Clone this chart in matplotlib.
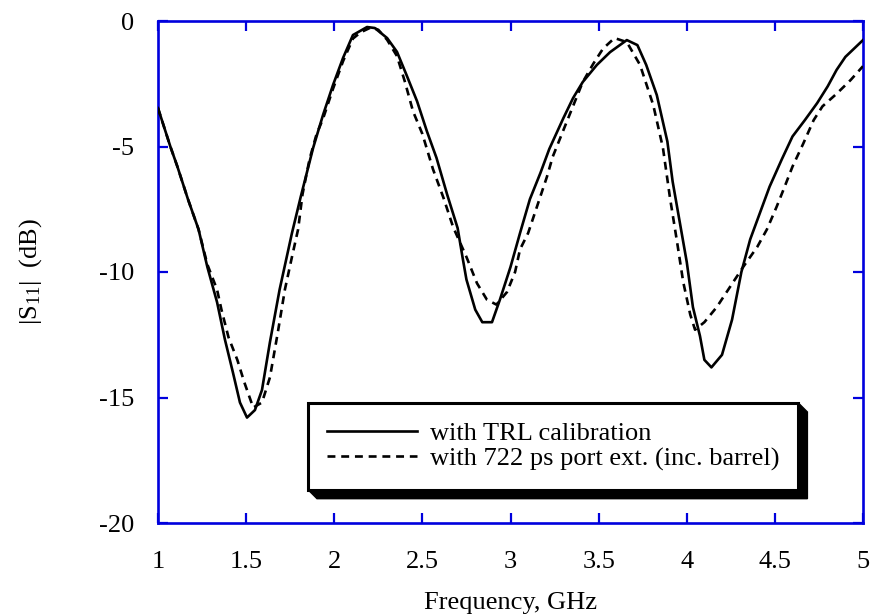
import matplotlib
matplotlib.use("Agg")
import matplotlib.pyplot as plt
from matplotlib.patches import Polygon
from matplotlib.transforms import IdentityTransform

# ---- data ----
freq_trl = [1.00, 1.07, 1.11, 1.17, 1.23, 1.28, 1.335, 1.38, 1.425, 1.465, 1.505,
            1.55, 1.59, 1.635, 1.69, 1.76, 1.81, 1.88, 1.936, 1.993, 2.05, 2.106,
            2.186, 2.23, 2.30, 2.356, 2.41, 2.47, 2.526, 2.58, 2.64, 2.70, 2.73,
            2.75, 2.80, 2.84, 2.895, 2.94, 3.00, 3.054, 3.11, 3.17, 3.22, 3.30,
            3.355, 3.41, 3.49, 3.565, 3.66, 3.72, 3.77, 3.83, 3.89, 3.92, 3.96,
            4.00, 4.035, 4.075, 4.10, 4.14, 4.20, 4.257, 4.31, 4.36, 4.415, 4.47,
            4.54, 4.60, 4.67, 4.74, 4.80, 4.85, 4.90, 5.00]
s11_trl = [-3.47, -5.0, -5.8, -7.1, -8.3, -9.8, -11.2, -12.7, -14.0, -15.2, -15.8,
           -15.5, -14.7, -12.8, -10.7, -8.45, -7.0, -5.06, -3.75, -2.55, -1.47, -0.56,
           -0.24, -0.28, -0.68, -1.23, -2.15, -3.2, -4.4, -5.45, -6.9, -8.25, -9.5,
           -10.3, -11.5, -12.0, -12.0, -11.1, -9.8, -8.45, -7.1, -6.05, -5.1, -3.87,
           -3.07, -2.43, -1.75, -1.24, -0.76, -0.96, -1.75, -2.95, -4.8, -6.4, -8.0,
           -9.6, -11.4, -12.55, -13.5, -13.8, -13.3, -11.9, -10.0, -8.7, -7.65, -6.6,
           -5.5, -4.6, -3.95, -3.27, -2.6, -1.95, -1.43, -0.76]

freq_ext = [1.00, 1.07, 1.11, 1.17, 1.23, 1.28, 1.335, 1.36, 1.40, 1.45, 1.49,
            1.54, 1.59, 1.635, 1.68, 1.72, 1.76, 1.795, 1.82, 1.86, 1.90, 1.936,
            1.993, 2.05, 2.106, 2.15, 2.21, 2.25, 2.30, 2.356, 2.40, 2.447, 2.50,
            2.56, 2.62, 2.674, 2.75, 2.81, 2.866, 2.92, 2.98, 3.026, 3.054, 3.10,
            3.15, 3.207, 3.24, 3.32, 3.41, 3.47, 3.525, 3.59, 3.66, 3.735, 3.81,
            3.865, 3.905, 3.945, 3.98, 4.02, 4.047, 4.10, 4.17, 4.245, 4.32, 4.40,
            4.455, 4.51, 4.55, 4.60, 4.66, 4.72, 4.77, 4.85, 4.93, 5.00]
s11_ext = [-3.47, -5.0, -5.8, -7.1, -8.3, -9.7, -10.7, -11.5, -12.6, -13.5, -14.4,
           -15.4, -15.2, -14.2, -12.4, -10.7, -9.4, -8.3, -6.9, -5.5, -4.5, -3.9,
           -2.7, -1.6, -0.7, -0.45, -0.25, -0.35, -0.75, -1.4, -2.4, -3.6, -4.5,
           -5.9, -7.05, -8.2, -9.4, -10.45, -11.1, -11.3, -10.8, -10.0, -9.1, -8.45,
           -7.4, -6.2, -5.4, -4.0, -2.43, -1.7, -1.1, -0.68, -0.84, -1.75, -3.35,
           -5.06, -7.05, -8.8, -10.4, -11.7, -12.3, -12.0, -11.4, -10.6, -9.8, -9.0,
           -8.3, -7.4, -6.7, -5.8, -4.9, -3.95, -3.4, -2.9, -2.35, -1.8]

x_ticks = [1, 1.5, 2, 2.5, 3, 3.5, 4, 4.5, 5]
x_ticklabels = ["1", "1.5", "2", "2.5", "3", "3.5", "4", "4.5", "5"]
y_ticks = [-20, -15, -10, -5, 0]
y_ticklabels = ["-20", "-15", "-10", "-5", "0"]
label_trl = "with TRL calibration"
label_ext = "with 722 ps port ext. (inc. barrel)"

# ---- style ----
plt.rcParams['font.family'] = ['Liberation Serif', 'DejaVu Serif']
plt.rcParams['mathtext.fontset'] = 'custom'
plt.rcParams['mathtext.rm'] = 'Liberation Serif'
plt.rcParams['mathtext.it'] = 'Liberation Serif:italic'
FS = 19
BLUE = '#0000dd'

fig = plt.figure(figsize=(8.73, 6.16), dpi=100)
ax = fig.add_axes([158/873, (616-523)/616, (863-158)/873, (523-21)/616])

ax.plot(freq_trl, s11_trl, color='black', lw=1.9, solid_joinstyle='round',
        label=label_trl, zorder=3)
ax.plot(freq_ext, s11_ext, color='black', lw=1.9, dashes=[3.0, 2.2],
        label=label_ext, zorder=3)

ax.set_xlim(1, 5)
ax.set_ylim(-20, 0)
ax.set_xticks(x_ticks)
ax.set_xticklabels(x_ticklabels)
ax.set_yticks(y_ticks)
ax.set_yticklabels(y_ticklabels)

for s in ax.spines.values():
    s.set_color(BLUE)
    s.set_linewidth(1.9)
ax.tick_params(axis='both', which='major', direction='in', length=7.5, width=1.6,
               color=BLUE, labelcolor='black', labelsize=FS,
               top=True, right=True)
ax.tick_params(axis='x', pad=20)
ax.tick_params(axis='y', pad=17)

ax.set_xlabel("Frequency, GHz", fontsize=FS, labelpad=14)
ax.set_ylabel(r"|S$_{\mathrm{11}}$|  (dB)", fontsize=FS, labelpad=40)

leg = ax.legend(loc='upper left', bbox_to_anchor=((308-158)/705, (523-403)/502),
                borderaxespad=0, fontsize=FS, frameon=True, fancybox=False,
                framealpha=1, edgecolor='black', handlelength=3.4,
                handletextpad=0.5, borderpad=0.72, labelspacing=0.05)
leg.get_frame().set_linewidth(2.2)
leg.set_zorder(6)

fig.canvas.draw()
bb = leg.get_window_extent()
d = 9
x0, y0, x1, y1 = bb.x0, bb.y0, bb.x1, bb.y1
shadow = Polygon([(x0, y1), (x1, y1), (x1 + d, y1 - d), (x1 + d, y0 - d),
                  (x0 + d, y0 - d), (x0, y0)], closed=True,
                 facecolor='black', edgecolor='black',
                 transform=IdentityTransform(), zorder=5.5)
ax.add_artist(shadow)

fig.savefig("out.png", dpi=100)
